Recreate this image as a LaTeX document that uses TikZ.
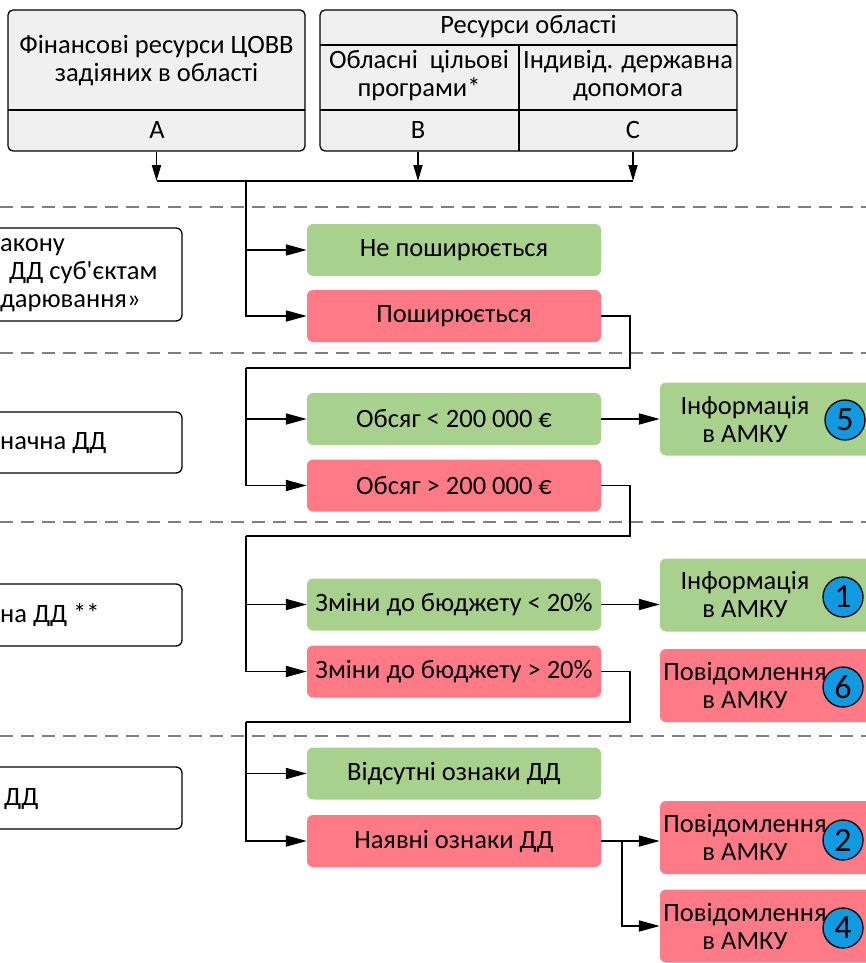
\documentclass[tikz,border=0pt]{standalone}
\usepackage{fontspec}
\setmainfont{Carlito}
\usetikzlibrary{arrows.meta}
\definecolor{okgreen}{RGB}{169,209,142}
\definecolor{badpink}{RGB}{255,122,135}
\definecolor{srcgray}{RGB}{240,240,240}
\definecolor{numblue}{RGB}{18,154,224}

\begin{document}
\begin{tikzpicture}[x=1pt,y=-1pt,font=\fontsize{26.5}{28}\selectfont]
        \tikzstyle{srcbox}=[draw,line width=1.3pt,rounded corners=5pt,fill=srcgray]
        \tikzstyle{lvlbox}=[draw,line width=1.3pt,rounded corners=6pt,fill=white,minimum width=202pt]
        \tikzstyle{yesbox}=[fill=okgreen,rounded corners=6pt,minimum width=294pt,minimum height=52pt,inner sep=2pt]
        \tikzstyle{nobox}=[fill=badpink,rounded corners=6pt,minimum width=294pt,minimum height=52pt,inner sep=2pt]
        \tikzstyle{outyes}=[fill=okgreen,rounded corners=6pt,minimum width=220pt,minimum height=73pt]
        \tikzstyle{outno}=[fill=badpink,rounded corners=6pt,minimum width=220pt,minimum height=73pt]
        \tikzstyle{numcirc}=[draw,circle,line width=1.3pt,fill=numblue,minimum size=40pt,inner sep=0pt,font=\fontsize{34}{34}\selectfont]
        \tikzstyle{stage}=[gray,line width=1.2pt,dash pattern=on 13pt off 8pt]
        \tikzstyle{wire}=[line width=1.8pt]
        \tikzstyle{into}=[wire,-{Triangle[length=21pt,width=11pt]}]
        \tikzstyle{down}=[wire,-{Triangle[length=16pt,width=9pt]}]

            \useasboundingbox (0,0) rectangle (866,963);
            \clip (0,0) rectangle (866,963);

            % stage separators
            \draw[stage] (0,207) -- (866,207)
            (0,353) -- (866,353)
            (0,522) -- (866,522)
            (0,736) -- (866,736)
            ;

            % sources
            \node[srcbox,minimum width=297pt,minimum height=141pt] (A) at (156.5,80.5) {};
            \node[srcbox,minimum width=417pt,minimum height=141pt] (BC) at (528.5,80.5) {};
            \draw[line width=1.3pt] (8,110) -- (305,110)
            (320,45) -- (737,45)
            (320,110) -- (737,110)
            (519,45) -- (519,151)
            ;
            \node[align=center] (Atxt) at (156.5,61) {Фінансові ресурси ЦОВВ\\задіяних в області};
            \node (Alab) at (157,130) {A};
            \node (BCtxt) at (528.5,27) {Ресурси області};
            \node[align=center] (Btxt) at (419,76) {Обласні\ \ цільові\\програми*};
            \node[align=center] (Ctxt) at (628,76) {Індивід. державна\\допомога};
            \node (Blab) at (418,130) {B};
            \node (Clab) at (633,130) {C};

            % left column
            \node[lvlbox,minimum height=93pt] (lvl1) at (81,274.5) {};
            \node[lvlbox,minimum height=61pt] (lvl2) at (81,442.5) {};
            \node[lvlbox,minimum height=62pt] (lvl3) at (81,615) {};
            \node[lvlbox,minimum height=62pt] (lvl4) at (81,798) {};
            \node[anchor=west,align=left,inner sep=0pt] (lvl1txt) at (0,275) {акону\\\hspace{9pt}ДД суб\textquotesingle єктам\\дарювання»};
            \node[anchor=west,inner sep=0pt] (lvl2txt) at (0,443) {начна ДД};
            \node[anchor=west,inner sep=0pt] (lvl3txt) at (0,615) {на ДД **};
            \node[anchor=west,inner sep=0pt] (lvl4txt) at (4,799) {ДД};

            % decisions
            \node[yesbox] (ne) at (454,250) {Не поширюється};
            \node[nobox] (po) at (454,316) {Поширюється};
            \node[yesbox] (ob1) at (454,419) {Обсяг < 200 000 €};
            \node[nobox] (ob2) at (454,485.5) {Обсяг > 200 000 €};
            \node[yesbox] (zm1) at (454,604.5) {Зміни до бюджету < 20\%};
            \node[nobox] (zm2) at (454,671.5) {Зміни до бюджету > 20\%};
            \node[yesbox] (vid) at (454,773.5) {Відсутні ознаки ДД};
            \node[nobox] (nay) at (454,841) {Наявні ознаки ДД};

            % outcomes
            \node[outyes] (inf5) at (770,419) {};
            \node[outyes] (inf1) at (770,595) {};
            \node[outno] (pov6) at (770,685.5) {};
            \node[outno] (pov2) at (770,837.5) {};
            \node[outno] (pov4) at (770,926) {};
            \node[align=center] (inf5txt) at (745,419) {Інформація\\в АМКУ};
            \node[align=center] (inf1txt) at (745,594) {Інформація\\в АМКУ};
            \node[align=center] (pov6txt) at (745,685) {Повідомлення\\в АМКУ};
            \node[align=center] (pov2txt) at (745,837) {Повідомлення\\в АМКУ};
            \node[align=center] (pov4txt) at (745,926) {Повідомлення\\в АМКУ};
            \node[numcirc] (n5) at (845,420) {5};
            \node[numcirc] (n1) at (843,597) {1};
            \node[numcirc] (n6) at (843,687) {6};
            \node[numcirc] (n2) at (843,840) {2};
            \node[numcirc] (n4) at (843,928) {4};

            \coordinate (bus) at (246,181);
            \coordinate (turn1) at (630,368);
            \coordinate (trunk1) at (246,368);
            \coordinate (turn2) at (630,536);
            \coordinate (trunk2) at (246,536);
            \coordinate (turn3) at (630,722);
            \coordinate (trunk3) at (246,722);
            \coordinate (fork) at (622,841);

            \draw[down] (A.south) -- (A.south |- bus);
            \draw[down] (Blab |- BC.south) -- (Blab |- bus);
            \draw[down] (Clab |- BC.south) -- (Clab |- bus);
            \draw[wire] (A.south |- bus) -- (Clab |- bus);
            \draw[into] (bus) |- (ne.west);
            \draw[into] (bus) |- (po.west);

            \draw[wire] (po.east) -| (turn1) -- (trunk1);
            \draw[into] (trunk1) |- (ob1.west);
            \draw[into] (trunk1) |- (ob2.west);
            \draw[into] (ob1.east) -- (inf5.west);

            \draw[wire] (ob2.east) -| (turn2) -- (trunk2);
            \draw[into] (trunk2) |- (zm1.west);
            \draw[into] (trunk2) |- (zm2.west);
            \draw[into] (zm1.east) -- (zm1.east -| inf1.west);

            \draw[wire] (zm2.east) -| (turn3) -- (trunk3);
            \draw[into] (trunk3) |- (vid.west);
            \draw[into] (trunk3) |- (nay.west);
            \draw[into] (nay.east) -- (nay.east -| pov2.west);
            \draw[into] (fork) |- (pov4.west);
        \end{tikzpicture}
\end{document}
